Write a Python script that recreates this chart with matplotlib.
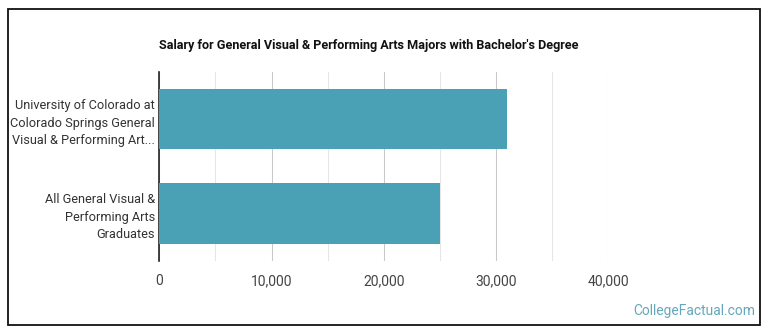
import matplotlib
matplotlib.use('Agg')
import matplotlib.pyplot as plt
from matplotlib.ticker import MultipleLocator, FuncFormatter

plt.rcParams['font.family'] = ['Roboto', 'DejaVu Sans']

categories = ['University of Colorado at\nColorado Springs General\nVisual & Performing Art...',
              'All General Visual &\nPerforming Arts\nGraduates']
salaries = [31000, 25000]
x_ticks = [0, 10000, 20000, 30000, 40000]

title = "Salary for General Visual & Performing Arts Majors with Bachelor's Degree"
bar_color = '#4aa0b5'

fig = plt.figure(figsize=(7.7, 3.35), dpi=100)
ax = fig.add_axes([159.3/770, 1-260.5/335, 449/770, 188.2/335])

ypos = list(range(len(categories)))
ax.barh(ypos, salaries, height=0.64, color=bar_color, zorder=3)
ax.set_yticks(ypos)
ax.set_yticklabels(categories, fontsize=9.2, color='#333333', linespacing=1.45)
ax.set_ylim(len(categories)-0.5, -0.5)

ax.set_xlim(0, 40000)
ax.set_xticks(x_ticks)
ax.xaxis.set_major_formatter(FuncFormatter(lambda v, p: f'{int(v):,}'))
ax.xaxis.set_minor_locator(MultipleLocator(5000))
ax.grid(axis='x', which='major', color='#c8c8c8', linewidth=0.75, zorder=0)
ax.grid(axis='x', which='minor', color='#e6e6e6', linewidth=0.75, zorder=0)
ax.tick_params(axis='x', which='both', length=0, pad=10, labelsize=10, labelcolor='#444444')
ax.tick_params(axis='y', length=0, pad=3)

for s in ['top', 'right', 'bottom']:
    ax.spines[s].set_visible(False)
ax.spines['left'].set_color('#222222')
ax.spines['left'].set_linewidth(1.2)

fig.text(159/770, 1-45/335, title, fontsize=9.1, fontweight='bold', color='#111111',
         ha='left', va='center')
fig.text(755/770, 1-311/335, 'CollegeFactual.com', fontsize=10, color='#66a8bb',
         ha='right', va='center')

border = plt.Rectangle((7.5/770, 1-324.5/335), 752.5/770, 316/335, transform=fig.transFigure,
                       fill=False, edgecolor='#111111', linewidth=1.3)
fig.patches.append(border)

fig.savefig('out.png', dpi=100)
